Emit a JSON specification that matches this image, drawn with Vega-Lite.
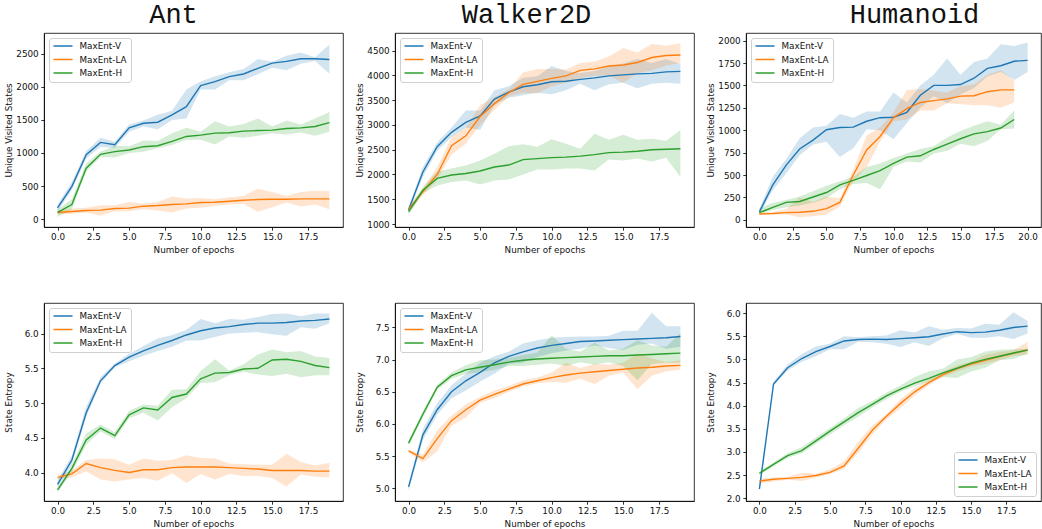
{
"$schema": "https://vega.github.io/schema/vega-lite/v6.json",
"background": "white",
"padding": {"left": 3, "top": 0, "right": 0, "bottom": 0},
"config": {
  "view": {"stroke": "black", "strokeWidth": 0.8},
  "axis": {"grid": false, "domainColor": "black", "domainWidth": 0.8, "tickColor": "black", "tickWidth": 0.8, "tickSize": 3.2, "labelFont": "DejaVu Sans", "labelFontSize": 8.8, "labelColor": "#111", "labelPadding": 2.6, "titleFont": "DejaVu Sans", "titleFontSize": 8.8, "titleFontWeight": "normal", "titleColor": "#111", "titlePadding": 3.5},
  "axisY": {"minExtent": 26, "maxExtent": 26, "titlePadding": 5},
  "legend": {"padding": 3.5, "strokeColor": "#d0d0d0", "fillColor": "rgba(255,255,255,0.8)", "cornerRadius": 2.5, "labelFont": "DejaVu Sans", "labelFontSize": 8.8, "labelColor": "#111", "symbolType": "stroke", "symbolStrokeWidth": 1.5, "symbolSize": 361, "labelOffset": 6, "clipHeight": 9, "rowPadding": 3.5, "offset": 5},
  "title": {"font": "Liberation Mono", "fontSize": 27, "fontWeight": "normal", "color": "#111", "offset": 4},
  "line": {"strokeWidth": 1.4},
  "area": {"opacity": 0.2}
},
"resolve": {"scale": {"color": "independent", "fill": "independent"}, "legend": {"color": "independent", "fill": "independent"}},
"columns": 3,
"align": "none",
"spacing": {"row": 47, "column": 10},
"datasets": {
"antU": [
{"s":"MaxEnt-V","x":0,"y":170,"lo":120,"hi":220},{"s":"MaxEnt-V","x":1,"y":495,"lo":440,"hi":560},{"s":"MaxEnt-V","x":2,"y":975,"lo":920,"hi":1030},{"s":"MaxEnt-V","x":3,"y":1160,"lo":1090,"hi":1230},{"s":"MaxEnt-V","x":4,"y":1125,"lo":1080,"hi":1170},{"s":"MaxEnt-V","x":5,"y":1380,"lo":1320,"hi":1430},{"s":"MaxEnt-V","x":6,"y":1450,"lo":1400,"hi":1490},{"s":"MaxEnt-V","x":7,"y":1465,"lo":1360,"hi":1580},{"s":"MaxEnt-V","x":8,"y":1575,"lo":1500,"hi":1640},{"s":"MaxEnt-V","x":9,"y":1700,"lo":1520,"hi":1960},{"s":"MaxEnt-V","x":10,"y":2020,"lo":1960,"hi":2080},{"s":"MaxEnt-V","x":11,"y":2080,"lo":1960,"hi":2160},{"s":"MaxEnt-V","x":12,"y":2155,"lo":2100,"hi":2220},{"s":"MaxEnt-V","x":13,"y":2195,"lo":2100,"hi":2270},{"s":"MaxEnt-V","x":14,"y":2280,"lo":2190,"hi":2420},{"s":"MaxEnt-V","x":15,"y":2360,"lo":2290,"hi":2380},{"s":"MaxEnt-V","x":16,"y":2385,"lo":2250,"hi":2470},{"s":"MaxEnt-V","x":17,"y":2425,"lo":2350,"hi":2520},{"s":"MaxEnt-V","x":18,"y":2425,"lo":2390,"hi":2450},{"s":"MaxEnt-V","x":19,"y":2415,"lo":2200,"hi":2640},
{"s":"MaxEnt-LA","x":0,"y":100,"lo":70,"hi":130},{"s":"MaxEnt-LA","x":1,"y":115,"lo":80,"hi":160},{"s":"MaxEnt-LA","x":2,"y":130,"lo":100,"hi":170},{"s":"MaxEnt-LA","x":3,"y":135,"lo":50,"hi":210},{"s":"MaxEnt-LA","x":4,"y":160,"lo":120,"hi":210},{"s":"MaxEnt-LA","x":5,"y":165,"lo":120,"hi":260},{"s":"MaxEnt-LA","x":6,"y":195,"lo":150,"hi":230},{"s":"MaxEnt-LA","x":7,"y":205,"lo":130,"hi":260},{"s":"MaxEnt-LA","x":8,"y":220,"lo":100,"hi":340},{"s":"MaxEnt-LA","x":9,"y":230,"lo":160,"hi":310},{"s":"MaxEnt-LA","x":10,"y":250,"lo":170,"hi":320},{"s":"MaxEnt-LA","x":11,"y":255,"lo":200,"hi":300},{"s":"MaxEnt-LA","x":12,"y":270,"lo":220,"hi":330},{"s":"MaxEnt-LA","x":13,"y":285,"lo":230,"hi":350},{"s":"MaxEnt-LA","x":14,"y":295,"lo":110,"hi":460},{"s":"MaxEnt-LA","x":15,"y":300,"lo":180,"hi":410},{"s":"MaxEnt-LA","x":16,"y":300,"lo":250,"hi":350},{"s":"MaxEnt-LA","x":17,"y":305,"lo":190,"hi":410},{"s":"MaxEnt-LA","x":18,"y":305,"lo":220,"hi":430},{"s":"MaxEnt-LA","x":19,"y":305,"lo":150,"hi":420},
{"s":"MaxEnt-H","x":0,"y":100,"lo":30,"hi":150},{"s":"MaxEnt-H","x":1,"y":220,"lo":150,"hi":300},{"s":"MaxEnt-H","x":2,"y":770,"lo":720,"hi":840},{"s":"MaxEnt-H","x":3,"y":980,"lo":940,"hi":1020},{"s":"MaxEnt-H","x":4,"y":1020,"lo":930,"hi":1110},{"s":"MaxEnt-H","x":5,"y":1045,"lo":1000,"hi":1100},{"s":"MaxEnt-H","x":6,"y":1095,"lo":1020,"hi":1190},{"s":"MaxEnt-H","x":7,"y":1110,"lo":1070,"hi":1180},{"s":"MaxEnt-H","x":8,"y":1175,"lo":1120,"hi":1300},{"s":"MaxEnt-H","x":9,"y":1250,"lo":1200,"hi":1380},{"s":"MaxEnt-H","x":10,"y":1270,"lo":1200,"hi":1320},{"s":"MaxEnt-H","x":11,"y":1300,"lo":1130,"hi":1480},{"s":"MaxEnt-H","x":12,"y":1305,"lo":1250,"hi":1400},{"s":"MaxEnt-H","x":13,"y":1330,"lo":1230,"hi":1440},{"s":"MaxEnt-H","x":14,"y":1340,"lo":1260,"hi":1520},{"s":"MaxEnt-H","x":15,"y":1345,"lo":1300,"hi":1400},{"s":"MaxEnt-H","x":16,"y":1370,"lo":1280,"hi":1490},{"s":"MaxEnt-H","x":17,"y":1380,"lo":1310,"hi":1430},{"s":"MaxEnt-H","x":18,"y":1400,"lo":1260,"hi":1520},{"s":"MaxEnt-H","x":19,"y":1460,"lo":1320,"hi":1620}
],
"walkU": [
{"s":"MaxEnt-V","x":0,"y":1290,"lo":1230,"hi":1340},{"s":"MaxEnt-V","x":1,"y":2050,"lo":1950,"hi":2150},{"s":"MaxEnt-V","x":2,"y":2560,"lo":2480,"hi":2650},{"s":"MaxEnt-V","x":3,"y":2850,"lo":2750,"hi":2950},{"s":"MaxEnt-V","x":4,"y":3050,"lo":2950,"hi":3290},{"s":"MaxEnt-V","x":5,"y":3180,"lo":2900,"hi":3290},{"s":"MaxEnt-V","x":6,"y":3520,"lo":3400,"hi":3700},{"s":"MaxEnt-V","x":7,"y":3660,"lo":3550,"hi":3780},{"s":"MaxEnt-V","x":8,"y":3770,"lo":3600,"hi":3950},{"s":"MaxEnt-V","x":9,"y":3810,"lo":3650,"hi":3980},{"s":"MaxEnt-V","x":10,"y":3870,"lo":3620,"hi":4190},{"s":"MaxEnt-V","x":11,"y":3880,"lo":3700,"hi":4090},{"s":"MaxEnt-V","x":12,"y":3920,"lo":3830,"hi":4050},{"s":"MaxEnt-V","x":13,"y":3950,"lo":3700,"hi":4090},{"s":"MaxEnt-V","x":14,"y":3990,"lo":3820,"hi":4180},{"s":"MaxEnt-V","x":15,"y":4010,"lo":3850,"hi":4240},{"s":"MaxEnt-V","x":16,"y":4030,"lo":3740,"hi":4330},{"s":"MaxEnt-V","x":17,"y":4040,"lo":3830,"hi":4250},{"s":"MaxEnt-V","x":18,"y":4070,"lo":3850,"hi":4330},{"s":"MaxEnt-V","x":19,"y":4080,"lo":3830,"hi":4230},
{"s":"MaxEnt-LA","x":0,"y":1300,"lo":1250,"hi":1350},{"s":"MaxEnt-LA","x":1,"y":1650,"lo":1580,"hi":1720},{"s":"MaxEnt-LA","x":2,"y":2000,"lo":1900,"hi":2150},{"s":"MaxEnt-LA","x":3,"y":2580,"lo":2400,"hi":2750},{"s":"MaxEnt-LA","x":4,"y":2780,"lo":2620,"hi":2950},{"s":"MaxEnt-LA","x":5,"y":3170,"lo":3000,"hi":3400},{"s":"MaxEnt-LA","x":6,"y":3430,"lo":3300,"hi":3560},{"s":"MaxEnt-LA","x":7,"y":3650,"lo":3580,"hi":3720},{"s":"MaxEnt-LA","x":8,"y":3820,"lo":3650,"hi":4060},{"s":"MaxEnt-LA","x":9,"y":3880,"lo":3640,"hi":4130},{"s":"MaxEnt-LA","x":10,"y":3940,"lo":3780,"hi":4130},{"s":"MaxEnt-LA","x":11,"y":3990,"lo":3850,"hi":4120},{"s":"MaxEnt-LA","x":12,"y":4100,"lo":3950,"hi":4250},{"s":"MaxEnt-LA","x":13,"y":4130,"lo":3990,"hi":4280},{"s":"MaxEnt-LA","x":14,"y":4190,"lo":4000,"hi":4380},{"s":"MaxEnt-LA","x":15,"y":4210,"lo":3850,"hi":4550},{"s":"MaxEnt-LA","x":16,"y":4260,"lo":4050,"hi":4460},{"s":"MaxEnt-LA","x":17,"y":4360,"lo":4100,"hi":4640},{"s":"MaxEnt-LA","x":18,"y":4400,"lo":4200,"hi":4600},{"s":"MaxEnt-LA","x":19,"y":4410,"lo":4250,"hi":4650},
{"s":"MaxEnt-H","x":0,"y":1250,"lo":1180,"hi":1320},{"s":"MaxEnt-H","x":1,"y":1680,"lo":1620,"hi":1740},{"s":"MaxEnt-H","x":2,"y":1920,"lo":1780,"hi":2060},{"s":"MaxEnt-H","x":3,"y":1990,"lo":1850,"hi":2120},{"s":"MaxEnt-H","x":4,"y":2020,"lo":1880,"hi":2180},{"s":"MaxEnt-H","x":5,"y":2070,"lo":1800,"hi":2280},{"s":"MaxEnt-H","x":6,"y":2150,"lo":1880,"hi":2420},{"s":"MaxEnt-H","x":7,"y":2190,"lo":1900,"hi":2570},{"s":"MaxEnt-H","x":8,"y":2300,"lo":2000,"hi":2610},{"s":"MaxEnt-H","x":9,"y":2320,"lo":2100,"hi":2560},{"s":"MaxEnt-H","x":10,"y":2340,"lo":2100,"hi":2710},{"s":"MaxEnt-H","x":11,"y":2350,"lo":2120,"hi":2620},{"s":"MaxEnt-H","x":12,"y":2370,"lo":2120,"hi":2520},{"s":"MaxEnt-H","x":13,"y":2400,"lo":2080,"hi":2820},{"s":"MaxEnt-H","x":14,"y":2440,"lo":2300,"hi":2700},{"s":"MaxEnt-H","x":15,"y":2450,"lo":2280,"hi":2800},{"s":"MaxEnt-H","x":16,"y":2470,"lo":2320,"hi":2700},{"s":"MaxEnt-H","x":17,"y":2500,"lo":2260,"hi":2720},{"s":"MaxEnt-H","x":18,"y":2510,"lo":2340,"hi":2680},{"s":"MaxEnt-H","x":19,"y":2520,"lo":1950,"hi":2900}
],
"humU": [
{"s":"MaxEnt-V","x":0,"y":90,"lo":60,"hi":120},{"s":"MaxEnt-V","x":1,"y":390,"lo":330,"hi":480},{"s":"MaxEnt-V","x":2,"y":610,"lo":520,"hi":680},{"s":"MaxEnt-V","x":3,"y":790,"lo":720,"hi":910},{"s":"MaxEnt-V","x":4,"y":890,"lo":840,"hi":1030},{"s":"MaxEnt-V","x":5,"y":1005,"lo":870,"hi":1050},{"s":"MaxEnt-V","x":6,"y":1030,"lo":700,"hi":1180},{"s":"MaxEnt-V","x":7,"y":1035,"lo":800,"hi":1140},{"s":"MaxEnt-V","x":8,"y":1100,"lo":1010,"hi":1210},{"s":"MaxEnt-V","x":9,"y":1140,"lo":1000,"hi":1210},{"s":"MaxEnt-V","x":10,"y":1145,"lo":900,"hi":1420},{"s":"MaxEnt-V","x":11,"y":1200,"lo":1080,"hi":1310},{"s":"MaxEnt-V","x":12,"y":1390,"lo":1250,"hi":1500},{"s":"MaxEnt-V","x":13,"y":1500,"lo":1380,"hi":1620},{"s":"MaxEnt-V","x":14,"y":1500,"lo":1300,"hi":1800},{"s":"MaxEnt-V","x":15,"y":1510,"lo":1400,"hi":1620},{"s":"MaxEnt-V","x":16,"y":1580,"lo":1470,"hi":1760},{"s":"MaxEnt-V","x":17,"y":1690,"lo":1600,"hi":1800},{"s":"MaxEnt-V","x":18,"y":1720,"lo":1650,"hi":1960},{"s":"MaxEnt-V","x":19,"y":1770,"lo":1560,"hi":1940},{"s":"MaxEnt-V","x":20,"y":1780,"lo":1650,"hi":1980},
{"s":"MaxEnt-LA","x":0,"y":65,"lo":55,"hi":80},{"s":"MaxEnt-LA","x":1,"y":70,"lo":60,"hi":85},{"s":"MaxEnt-LA","x":2,"y":80,"lo":60,"hi":120},{"s":"MaxEnt-LA","x":3,"y":85,"lo":30,"hi":250},{"s":"MaxEnt-LA","x":4,"y":95,"lo":40,"hi":200},{"s":"MaxEnt-LA","x":5,"y":125,"lo":60,"hi":260},{"s":"MaxEnt-LA","x":6,"y":195,"lo":150,"hi":240},{"s":"MaxEnt-LA","x":7,"y":500,"lo":430,"hi":560},{"s":"MaxEnt-LA","x":8,"y":780,"lo":590,"hi":940},{"s":"MaxEnt-LA","x":9,"y":930,"lo":870,"hi":1030},{"s":"MaxEnt-LA","x":10,"y":1140,"lo":1100,"hi":1200},{"s":"MaxEnt-LA","x":11,"y":1240,"lo":1120,"hi":1450},{"s":"MaxEnt-LA","x":12,"y":1310,"lo":1220,"hi":1460},{"s":"MaxEnt-LA","x":13,"y":1330,"lo":1220,"hi":1440},{"s":"MaxEnt-LA","x":14,"y":1350,"lo":1300,"hi":1420},{"s":"MaxEnt-LA","x":15,"y":1380,"lo":1290,"hi":1490},{"s":"MaxEnt-LA","x":16,"y":1385,"lo":1280,"hi":1510},{"s":"MaxEnt-LA","x":17,"y":1430,"lo":1280,"hi":1620},{"s":"MaxEnt-LA","x":18,"y":1450,"lo":1250,"hi":1670},{"s":"MaxEnt-LA","x":19,"y":1450,"lo":1310,"hi":1550},
{"s":"MaxEnt-H","x":0,"y":80,"lo":60,"hi":130},{"s":"MaxEnt-H","x":1,"y":140,"lo":110,"hi":190},{"s":"MaxEnt-H","x":2,"y":195,"lo":140,"hi":220},{"s":"MaxEnt-H","x":3,"y":205,"lo":160,"hi":260},{"s":"MaxEnt-H","x":4,"y":255,"lo":190,"hi":320},{"s":"MaxEnt-H","x":5,"y":305,"lo":240,"hi":380},{"s":"MaxEnt-H","x":6,"y":390,"lo":340,"hi":430},{"s":"MaxEnt-H","x":7,"y":440,"lo":400,"hi":480},{"s":"MaxEnt-H","x":8,"y":495,"lo":410,"hi":590},{"s":"MaxEnt-H","x":9,"y":550,"lo":340,"hi":630},{"s":"MaxEnt-H","x":10,"y":630,"lo":590,"hi":690},{"s":"MaxEnt-H","x":11,"y":700,"lo":650,"hi":740},{"s":"MaxEnt-H","x":12,"y":715,"lo":640,"hi":790},{"s":"MaxEnt-H","x":13,"y":785,"lo":740,"hi":820},{"s":"MaxEnt-H","x":14,"y":845,"lo":770,"hi":920},{"s":"MaxEnt-H","x":15,"y":905,"lo":850,"hi":990},{"s":"MaxEnt-H","x":16,"y":960,"lo":820,"hi":1050},{"s":"MaxEnt-H","x":17,"y":985,"lo":880,"hi":1100},{"s":"MaxEnt-H","x":18,"y":1025,"lo":1010,"hi":1060},{"s":"MaxEnt-H","x":19,"y":1120,"lo":1020,"hi":1220}
],
"antE": [
{"s":"MaxEnt-V","x":0,"y":3.83,"lo":3.78,"hi":3.89},{"s":"MaxEnt-V","x":1,"y":4.18,"lo":4.12,"hi":4.24},{"s":"MaxEnt-V","x":2,"y":4.86,"lo":4.8,"hi":4.95},{"s":"MaxEnt-V","x":3,"y":5.32,"lo":5.28,"hi":5.37},{"s":"MaxEnt-V","x":4,"y":5.54,"lo":5.51,"hi":5.57},{"s":"MaxEnt-V","x":5,"y":5.66,"lo":5.6,"hi":5.71},{"s":"MaxEnt-V","x":6,"y":5.75,"lo":5.68,"hi":5.82},{"s":"MaxEnt-V","x":7,"y":5.83,"lo":5.75,"hi":5.93},{"s":"MaxEnt-V","x":8,"y":5.9,"lo":5.81,"hi":5.98},{"s":"MaxEnt-V","x":9,"y":5.98,"lo":5.9,"hi":6.05},{"s":"MaxEnt-V","x":10,"y":6.04,"lo":5.9,"hi":6.21},{"s":"MaxEnt-V","x":11,"y":6.08,"lo":5.95,"hi":6.15},{"s":"MaxEnt-V","x":12,"y":6.1,"lo":6.0,"hi":6.21},{"s":"MaxEnt-V","x":13,"y":6.13,"lo":6.01,"hi":6.2},{"s":"MaxEnt-V","x":14,"y":6.15,"lo":6.02,"hi":6.24},{"s":"MaxEnt-V","x":15,"y":6.15,"lo":5.99,"hi":6.28},{"s":"MaxEnt-V","x":16,"y":6.16,"lo":5.97,"hi":6.29},{"s":"MaxEnt-V","x":17,"y":6.18,"lo":6.09,"hi":6.25},{"s":"MaxEnt-V","x":18,"y":6.19,"lo":6.07,"hi":6.29},{"s":"MaxEnt-V","x":19,"y":6.21,"lo":6.15,"hi":6.29},
{"s":"MaxEnt-LA","x":0,"y":3.93,"lo":3.9,"hi":3.96},{"s":"MaxEnt-LA","x":1,"y":3.98,"lo":3.93,"hi":4.03},{"s":"MaxEnt-LA","x":2,"y":4.13,"lo":4.02,"hi":4.18},{"s":"MaxEnt-LA","x":3,"y":4.07,"lo":3.9,"hi":4.2},{"s":"MaxEnt-LA","x":4,"y":4.03,"lo":3.87,"hi":4.19},{"s":"MaxEnt-LA","x":5,"y":4.0,"lo":3.9,"hi":4.11},{"s":"MaxEnt-LA","x":6,"y":4.04,"lo":3.92,"hi":4.2},{"s":"MaxEnt-LA","x":7,"y":4.04,"lo":3.88,"hi":4.17},{"s":"MaxEnt-LA","x":8,"y":4.07,"lo":3.99,"hi":4.18},{"s":"MaxEnt-LA","x":9,"y":4.08,"lo":3.85,"hi":4.25},{"s":"MaxEnt-LA","x":10,"y":4.08,"lo":3.98,"hi":4.21},{"s":"MaxEnt-LA","x":11,"y":4.08,"lo":3.9,"hi":4.2},{"s":"MaxEnt-LA","x":12,"y":4.07,"lo":3.98,"hi":4.13},{"s":"MaxEnt-LA","x":13,"y":4.06,"lo":3.95,"hi":4.12},{"s":"MaxEnt-LA","x":14,"y":4.05,"lo":3.95,"hi":4.11},{"s":"MaxEnt-LA","x":15,"y":4.03,"lo":3.92,"hi":4.11},{"s":"MaxEnt-LA","x":16,"y":4.03,"lo":3.8,"hi":4.27},{"s":"MaxEnt-LA","x":17,"y":4.03,"lo":3.97,"hi":4.15},{"s":"MaxEnt-LA","x":18,"y":4.02,"lo":3.94,"hi":4.1},{"s":"MaxEnt-LA","x":19,"y":4.02,"lo":3.93,"hi":4.14},
{"s":"MaxEnt-H","x":0,"y":3.75,"lo":3.72,"hi":3.78},{"s":"MaxEnt-H","x":1,"y":4.06,"lo":4.0,"hi":4.11},{"s":"MaxEnt-H","x":2,"y":4.47,"lo":4.4,"hi":4.56},{"s":"MaxEnt-H","x":3,"y":4.64,"lo":4.59,"hi":4.69},{"s":"MaxEnt-H","x":4,"y":4.53,"lo":4.48,"hi":4.58},{"s":"MaxEnt-H","x":5,"y":4.83,"lo":4.78,"hi":4.89},{"s":"MaxEnt-H","x":6,"y":4.93,"lo":4.86,"hi":4.98},{"s":"MaxEnt-H","x":7,"y":4.9,"lo":4.75,"hi":4.96},{"s":"MaxEnt-H","x":8,"y":5.08,"lo":4.94,"hi":5.19},{"s":"MaxEnt-H","x":9,"y":5.13,"lo":5.07,"hi":5.2},{"s":"MaxEnt-H","x":10,"y":5.35,"lo":5.29,"hi":5.46},{"s":"MaxEnt-H","x":11,"y":5.43,"lo":5.3,"hi":5.63},{"s":"MaxEnt-H","x":12,"y":5.44,"lo":5.4,"hi":5.47},{"s":"MaxEnt-H","x":13,"y":5.49,"lo":5.45,"hi":5.56},{"s":"MaxEnt-H","x":14,"y":5.5,"lo":5.41,"hi":5.7},{"s":"MaxEnt-H","x":15,"y":5.62,"lo":5.39,"hi":5.77},{"s":"MaxEnt-H","x":16,"y":5.63,"lo":5.42,"hi":5.73},{"s":"MaxEnt-H","x":17,"y":5.6,"lo":5.37,"hi":5.75},{"s":"MaxEnt-H","x":18,"y":5.54,"lo":5.4,"hi":5.67},{"s":"MaxEnt-H","x":19,"y":5.51,"lo":5.4,"hi":5.65}
],
"walkE": [
{"s":"MaxEnt-V","x":0,"y":5.02,"lo":4.96,"hi":5.07},{"s":"MaxEnt-V","x":1,"y":5.83,"lo":5.75,"hi":5.92},{"s":"MaxEnt-V","x":2,"y":6.22,"lo":6.14,"hi":6.32},{"s":"MaxEnt-V","x":3,"y":6.5,"lo":6.4,"hi":6.6},{"s":"MaxEnt-V","x":4,"y":6.67,"lo":6.52,"hi":6.78},{"s":"MaxEnt-V","x":5,"y":6.8,"lo":6.66,"hi":6.95},{"s":"MaxEnt-V","x":6,"y":6.95,"lo":6.78,"hi":7.05},{"s":"MaxEnt-V","x":7,"y":7.05,"lo":6.93,"hi":7.12},{"s":"MaxEnt-V","x":8,"y":7.12,"lo":6.95,"hi":7.25},{"s":"MaxEnt-V","x":9,"y":7.18,"lo":7.04,"hi":7.3},{"s":"MaxEnt-V","x":10,"y":7.22,"lo":7.1,"hi":7.34},{"s":"MaxEnt-V","x":11,"y":7.25,"lo":7.14,"hi":7.35},{"s":"MaxEnt-V","x":12,"y":7.28,"lo":7.17,"hi":7.36},{"s":"MaxEnt-V","x":13,"y":7.29,"lo":7.22,"hi":7.36},{"s":"MaxEnt-V","x":14,"y":7.3,"lo":7.18,"hi":7.37},{"s":"MaxEnt-V","x":15,"y":7.31,"lo":7.15,"hi":7.45},{"s":"MaxEnt-V","x":16,"y":7.32,"lo":7.23,"hi":7.45},{"s":"MaxEnt-V","x":17,"y":7.33,"lo":7.25,"hi":7.73},{"s":"MaxEnt-V","x":18,"y":7.34,"lo":7.17,"hi":7.52},{"s":"MaxEnt-V","x":19,"y":7.36,"lo":7.2,"hi":7.52},
{"s":"MaxEnt-LA","x":0,"y":5.58,"lo":5.55,"hi":5.6},{"s":"MaxEnt-LA","x":1,"y":5.46,"lo":5.4,"hi":5.52},{"s":"MaxEnt-LA","x":2,"y":5.77,"lo":5.57,"hi":5.9},{"s":"MaxEnt-LA","x":3,"y":6.05,"lo":5.97,"hi":6.13},{"s":"MaxEnt-LA","x":4,"y":6.22,"lo":6.1,"hi":6.3},{"s":"MaxEnt-LA","x":5,"y":6.37,"lo":6.33,"hi":6.42},{"s":"MaxEnt-LA","x":6,"y":6.46,"lo":6.4,"hi":6.52},{"s":"MaxEnt-LA","x":7,"y":6.54,"lo":6.5,"hi":6.59},{"s":"MaxEnt-LA","x":8,"y":6.62,"lo":6.58,"hi":6.68},{"s":"MaxEnt-LA","x":9,"y":6.67,"lo":6.63,"hi":6.72},{"s":"MaxEnt-LA","x":10,"y":6.72,"lo":6.65,"hi":6.8},{"s":"MaxEnt-LA","x":11,"y":6.76,"lo":6.64,"hi":6.95},{"s":"MaxEnt-LA","x":12,"y":6.79,"lo":6.7,"hi":6.87},{"s":"MaxEnt-LA","x":13,"y":6.81,"lo":6.62,"hi":6.93},{"s":"MaxEnt-LA","x":14,"y":6.83,"lo":6.75,"hi":6.92},{"s":"MaxEnt-LA","x":15,"y":6.85,"lo":6.8,"hi":6.95},{"s":"MaxEnt-LA","x":16,"y":6.87,"lo":6.54,"hi":7.1},{"s":"MaxEnt-LA","x":17,"y":6.88,"lo":6.75,"hi":7.02},{"s":"MaxEnt-LA","x":18,"y":6.9,"lo":6.82,"hi":6.96},{"s":"MaxEnt-LA","x":19,"y":6.91,"lo":6.84,"hi":6.99},
{"s":"MaxEnt-H","x":0,"y":5.7,"lo":5.66,"hi":5.74},{"s":"MaxEnt-H","x":1,"y":6.15,"lo":6.1,"hi":6.2},{"s":"MaxEnt-H","x":2,"y":6.57,"lo":6.53,"hi":6.61},{"s":"MaxEnt-H","x":3,"y":6.75,"lo":6.7,"hi":6.8},{"s":"MaxEnt-H","x":4,"y":6.84,"lo":6.78,"hi":6.91},{"s":"MaxEnt-H","x":5,"y":6.88,"lo":6.8,"hi":6.99},{"s":"MaxEnt-H","x":6,"y":6.92,"lo":6.84,"hi":7.0},{"s":"MaxEnt-H","x":7,"y":6.96,"lo":6.9,"hi":7.03},{"s":"MaxEnt-H","x":8,"y":6.99,"lo":6.9,"hi":7.07},{"s":"MaxEnt-H","x":9,"y":7.01,"lo":6.92,"hi":7.11},{"s":"MaxEnt-H","x":10,"y":7.02,"lo":6.94,"hi":7.38},{"s":"MaxEnt-H","x":11,"y":7.03,"lo":6.9,"hi":7.17},{"s":"MaxEnt-H","x":12,"y":7.04,"lo":6.96,"hi":7.12},{"s":"MaxEnt-H","x":13,"y":7.05,"lo":6.92,"hi":7.26},{"s":"MaxEnt-H","x":14,"y":7.06,"lo":6.96,"hi":7.14},{"s":"MaxEnt-H","x":15,"y":7.06,"lo":6.9,"hi":7.17},{"s":"MaxEnt-H","x":16,"y":7.07,"lo":6.68,"hi":7.3},{"s":"MaxEnt-H","x":17,"y":7.08,"lo":6.93,"hi":7.22},{"s":"MaxEnt-H","x":18,"y":7.09,"lo":6.95,"hi":7.2},{"s":"MaxEnt-H","x":19,"y":7.1,"lo":6.95,"hi":7.41}
],
"humE": [
{"s":"MaxEnt-V","x":0,"y":2.2,"lo":2.15,"hi":2.25},{"s":"MaxEnt-V","x":1,"y":4.47,"lo":4.43,"hi":4.52},{"s":"MaxEnt-V","x":2,"y":4.82,"lo":4.76,"hi":4.89},{"s":"MaxEnt-V","x":3,"y":5.02,"lo":4.95,"hi":5.12},{"s":"MaxEnt-V","x":4,"y":5.17,"lo":5.07,"hi":5.28},{"s":"MaxEnt-V","x":5,"y":5.28,"lo":5.22,"hi":5.34},{"s":"MaxEnt-V","x":6,"y":5.4,"lo":5.22,"hi":5.5},{"s":"MaxEnt-V","x":7,"y":5.43,"lo":5.38,"hi":5.48},{"s":"MaxEnt-V","x":8,"y":5.44,"lo":5.37,"hi":5.5},{"s":"MaxEnt-V","x":9,"y":5.43,"lo":5.34,"hi":5.52},{"s":"MaxEnt-V","x":10,"y":5.45,"lo":5.27,"hi":5.63},{"s":"MaxEnt-V","x":11,"y":5.47,"lo":5.37,"hi":5.58},{"s":"MaxEnt-V","x":12,"y":5.49,"lo":5.29,"hi":5.72},{"s":"MaxEnt-V","x":13,"y":5.55,"lo":5.46,"hi":5.64},{"s":"MaxEnt-V","x":14,"y":5.6,"lo":5.55,"hi":5.68},{"s":"MaxEnt-V","x":15,"y":5.58,"lo":5.47,"hi":5.67},{"s":"MaxEnt-V","x":16,"y":5.59,"lo":5.47,"hi":5.77},{"s":"MaxEnt-V","x":17,"y":5.63,"lo":5.5,"hi":5.75},{"s":"MaxEnt-V","x":18,"y":5.69,"lo":5.44,"hi":6.02},{"s":"MaxEnt-V","x":19,"y":5.72,"lo":5.56,"hi":5.83},
{"s":"MaxEnt-LA","x":0,"y":2.37,"lo":2.32,"hi":2.42},{"s":"MaxEnt-LA","x":1,"y":2.41,"lo":2.36,"hi":2.45},{"s":"MaxEnt-LA","x":2,"y":2.43,"lo":2.4,"hi":2.46},{"s":"MaxEnt-LA","x":3,"y":2.45,"lo":2.37,"hi":2.55},{"s":"MaxEnt-LA","x":4,"y":2.49,"lo":2.45,"hi":2.53},{"s":"MaxEnt-LA","x":5,"y":2.56,"lo":2.52,"hi":2.62},{"s":"MaxEnt-LA","x":6,"y":2.7,"lo":2.63,"hi":2.8},{"s":"MaxEnt-LA","x":7,"y":3.08,"lo":2.98,"hi":3.22},{"s":"MaxEnt-LA","x":8,"y":3.47,"lo":3.38,"hi":3.57},{"s":"MaxEnt-LA","x":9,"y":3.77,"lo":3.7,"hi":3.82},{"s":"MaxEnt-LA","x":10,"y":4.05,"lo":3.95,"hi":4.14},{"s":"MaxEnt-LA","x":11,"y":4.3,"lo":4.22,"hi":4.38},{"s":"MaxEnt-LA","x":12,"y":4.5,"lo":4.44,"hi":4.56},{"s":"MaxEnt-LA","x":13,"y":4.67,"lo":4.62,"hi":4.73},{"s":"MaxEnt-LA","x":14,"y":4.8,"lo":4.74,"hi":4.87},{"s":"MaxEnt-LA","x":15,"y":4.9,"lo":4.85,"hi":4.95},{"s":"MaxEnt-LA","x":16,"y":4.98,"lo":4.9,"hi":5.1},{"s":"MaxEnt-LA","x":17,"y":5.06,"lo":4.98,"hi":5.16},{"s":"MaxEnt-LA","x":18,"y":5.13,"lo":5.08,"hi":5.2},{"s":"MaxEnt-LA","x":19,"y":5.21,"lo":5.1,"hi":5.38},
{"s":"MaxEnt-H","x":0,"y":2.54,"lo":2.5,"hi":2.58},{"s":"MaxEnt-H","x":1,"y":2.73,"lo":2.69,"hi":2.77},{"s":"MaxEnt-H","x":2,"y":2.92,"lo":2.87,"hi":2.98},{"s":"MaxEnt-H","x":3,"y":3.03,"lo":2.97,"hi":3.1},{"s":"MaxEnt-H","x":4,"y":3.24,"lo":3.18,"hi":3.31},{"s":"MaxEnt-H","x":5,"y":3.45,"lo":3.38,"hi":3.52},{"s":"MaxEnt-H","x":6,"y":3.65,"lo":3.58,"hi":3.73},{"s":"MaxEnt-H","x":7,"y":3.85,"lo":3.76,"hi":3.95},{"s":"MaxEnt-H","x":8,"y":4.03,"lo":3.96,"hi":4.1},{"s":"MaxEnt-H","x":9,"y":4.21,"lo":4.14,"hi":4.28},{"s":"MaxEnt-H","x":10,"y":4.36,"lo":4.3,"hi":4.44},{"s":"MaxEnt-H","x":11,"y":4.49,"lo":4.42,"hi":4.62},{"s":"MaxEnt-H","x":12,"y":4.59,"lo":4.52,"hi":4.74},{"s":"MaxEnt-H","x":13,"y":4.71,"lo":4.62,"hi":4.8},{"s":"MaxEnt-H","x":14,"y":4.81,"lo":4.6,"hi":5.0},{"s":"MaxEnt-H","x":15,"y":4.92,"lo":4.74,"hi":5.05},{"s":"MaxEnt-H","x":16,"y":5.0,"lo":4.82,"hi":5.17},{"s":"MaxEnt-H","x":17,"y":5.07,"lo":4.98,"hi":5.21},{"s":"MaxEnt-H","x":18,"y":5.14,"lo":5.01,"hi":5.22},{"s":"MaxEnt-H","x":19,"y":5.2,"lo":5.13,"hi":5.23}
]
},
"concat": [
{
 "width": 299, "height": 194,
 "title": {"text": "Ant", "dx": -20},
 "data": {"name": "antU"},
 "encoding": {"x": {"field": "x", "type": "quantitative", "scale": {"domain": [-0.95, 19.95], "nice": false, "zero": false}, "axis": {"title": "Number of epochs", "values": [0, 2.5, 5, 7.5, 10, 12.5, 15, 17.5], "format": ".1f"}}},
 "layer": [
  {"mark": {"type": "area"}, "encoding": {"y": {"field": "lo", "type": "quantitative", "stack": null, "scale": {"domain": [-120, 2815], "nice": false, "zero": false}, "axis": {"title": "Unique Visited States", "values": [0, 500, 1000, 1500, 2000, 2500], "format": "d"}}, "y2": {"field": "hi"}, "fill": {"field": "s", "type": "nominal", "scale": {"domain": ["MaxEnt-H", "MaxEnt-LA", "MaxEnt-V"], "range": ["#2ca02c", "#ff7f0e", "#1f77b4"]}, "legend": null}}},
  {"mark": {"type": "line"}, "encoding": {"y": {"field": "y", "type": "quantitative", "axis": {"title": "Unique Visited States", "values": [0, 500, 1000, 1500, 2000, 2500], "format": "d"}}, "color": {"field": "s", "type": "nominal", "scale": {"domain": ["MaxEnt-V", "MaxEnt-LA", "MaxEnt-H"], "range": ["#1f77b4", "#ff7f0e", "#2ca02c"]}, "legend": {"orient": "top-left", "title": null}}}}
 ]
},
{
 "width": 299, "height": 194,
 "title": {"text": "Walker2D", "dx": -18},
 "data": {"name": "walkU"},
 "encoding": {"x": {"field": "x", "type": "quantitative", "scale": {"domain": [-0.95, 19.95], "nice": false, "zero": false}, "axis": {"title": "Number of epochs", "values": [0, 2.5, 5, 7.5, 10, 12.5, 15, 17.5], "format": ".1f"}}},
 "layer": [
  {"mark": {"type": "area"}, "encoding": {"y": {"field": "lo", "type": "quantitative", "stack": null, "scale": {"domain": [940, 4855], "nice": false, "zero": false}, "axis": {"title": "Unique Visited States", "values": [1000, 1500, 2000, 2500, 3000, 3500, 4000, 4500], "format": "d"}}, "y2": {"field": "hi"}, "fill": {"field": "s", "type": "nominal", "scale": {"domain": ["MaxEnt-H", "MaxEnt-LA", "MaxEnt-V"], "range": ["#2ca02c", "#ff7f0e", "#1f77b4"]}, "legend": null}}},
  {"mark": {"type": "line"}, "encoding": {"y": {"field": "y", "type": "quantitative", "axis": {"title": "Unique Visited States", "values": [1000, 1500, 2000, 2500, 3000, 3500, 4000, 4500], "format": "d"}}, "color": {"field": "s", "type": "nominal", "scale": {"domain": ["MaxEnt-V", "MaxEnt-LA", "MaxEnt-H"], "range": ["#1f77b4", "#ff7f0e", "#2ca02c"]}, "legend": {"orient": "top-left", "title": null}}}}
 ]
},
{
 "width": 295, "height": 194,
 "title": {"text": "Humanoid", "dx": 21},
 "data": {"name": "humU"},
 "encoding": {"x": {"field": "x", "type": "quantitative", "scale": {"domain": [-1, 21], "nice": false, "zero": false}, "axis": {"title": "Number of epochs", "values": [0, 2.5, 5, 7.5, 10, 12.5, 15, 17.5, 20], "format": ".1f"}}},
 "layer": [
  {"mark": {"type": "area"}, "encoding": {"y": {"field": "lo", "type": "quantitative", "stack": null, "scale": {"domain": [-80, 2085], "nice": false, "zero": false}, "axis": {"title": "Unique Visited States", "values": [0, 250, 500, 750, 1000, 1250, 1500, 1750, 2000], "format": "d"}}, "y2": {"field": "hi"}, "fill": {"field": "s", "type": "nominal", "scale": {"domain": ["MaxEnt-H", "MaxEnt-LA", "MaxEnt-V"], "range": ["#2ca02c", "#ff7f0e", "#1f77b4"]}, "legend": null}}},
  {"mark": {"type": "line"}, "encoding": {"y": {"field": "y", "type": "quantitative", "axis": {"title": "Unique Visited States", "values": [0, 250, 500, 750, 1000, 1250, 1500, 1750, 2000], "format": "d"}}, "color": {"field": "s", "type": "nominal", "scale": {"domain": ["MaxEnt-V", "MaxEnt-LA", "MaxEnt-H"], "range": ["#1f77b4", "#ff7f0e", "#2ca02c"]}, "legend": {"orient": "top-left", "title": null}}}}
 ]
},
{
 "width": 299, "height": 198,
 "data": {"name": "antE"},
 "encoding": {"x": {"field": "x", "type": "quantitative", "scale": {"domain": [-0.95, 19.95], "nice": false, "zero": false}, "axis": {"title": "Number of epochs", "values": [0, 2.5, 5, 7.5, 10, 12.5, 15, 17.5], "format": ".1f"}}},
 "layer": [
  {"mark": {"type": "area"}, "encoding": {"y": {"field": "lo", "type": "quantitative", "stack": null, "scale": {"domain": [3.59, 6.44], "nice": false, "zero": false}, "axis": {"title": "State Entropy", "values": [4, 4.5, 5, 5.5, 6], "format": ".1f"}}, "y2": {"field": "hi"}, "fill": {"field": "s", "type": "nominal", "scale": {"domain": ["MaxEnt-H", "MaxEnt-LA", "MaxEnt-V"], "range": ["#2ca02c", "#ff7f0e", "#1f77b4"]}, "legend": null}}},
  {"mark": {"type": "line"}, "encoding": {"y": {"field": "y", "type": "quantitative", "axis": {"title": "State Entropy", "values": [4, 4.5, 5, 5.5, 6], "format": ".1f"}}, "color": {"field": "s", "type": "nominal", "scale": {"domain": ["MaxEnt-V", "MaxEnt-LA", "MaxEnt-H"], "range": ["#1f77b4", "#ff7f0e", "#2ca02c"]}, "legend": {"orient": "top-left", "title": null}}}}
 ]
},
{
 "width": 299, "height": 198,
 "data": {"name": "walkE"},
 "encoding": {"x": {"field": "x", "type": "quantitative", "scale": {"domain": [-0.95, 19.95], "nice": false, "zero": false}, "axis": {"title": "Number of epochs", "values": [0, 2.5, 5, 7.5, 10, 12.5, 15, 17.5], "format": ".1f"}}},
 "layer": [
  {"mark": {"type": "area"}, "encoding": {"y": {"field": "lo", "type": "quantitative", "stack": null, "scale": {"domain": [4.8, 7.88], "nice": false, "zero": false}, "axis": {"title": "State Entropy", "values": [5, 5.5, 6, 6.5, 7, 7.5], "format": ".1f"}}, "y2": {"field": "hi"}, "fill": {"field": "s", "type": "nominal", "scale": {"domain": ["MaxEnt-H", "MaxEnt-LA", "MaxEnt-V"], "range": ["#2ca02c", "#ff7f0e", "#1f77b4"]}, "legend": null}}},
  {"mark": {"type": "line"}, "encoding": {"y": {"field": "y", "type": "quantitative", "axis": {"title": "State Entropy", "values": [5, 5.5, 6, 6.5, 7, 7.5], "format": ".1f"}}, "color": {"field": "s", "type": "nominal", "scale": {"domain": ["MaxEnt-V", "MaxEnt-LA", "MaxEnt-H"], "range": ["#1f77b4", "#ff7f0e", "#2ca02c"]}, "legend": {"orient": "top-left", "title": null}}}}
 ]
},
{
 "width": 295, "height": 198,
 "data": {"name": "humE"},
 "encoding": {"x": {"field": "x", "type": "quantitative", "scale": {"domain": [-0.95, 19.95], "nice": false, "zero": false}, "axis": {"title": "Number of epochs", "values": [0, 2.5, 5, 7.5, 10, 12.5, 15, 17.5], "format": ".1f"}}},
 "layer": [
  {"mark": {"type": "area"}, "encoding": {"y": {"field": "lo", "type": "quantitative", "stack": null, "scale": {"domain": [1.94, 6.22], "nice": false, "zero": false}, "axis": {"title": "State Entropy", "values": [2, 2.5, 3, 3.5, 4, 4.5, 5, 5.5, 6], "format": ".1f"}}, "y2": {"field": "hi"}, "fill": {"field": "s", "type": "nominal", "scale": {"domain": ["MaxEnt-H", "MaxEnt-LA", "MaxEnt-V"], "range": ["#2ca02c", "#ff7f0e", "#1f77b4"]}, "legend": null}}},
  {"mark": {"type": "line"}, "encoding": {"y": {"field": "y", "type": "quantitative", "axis": {"title": "State Entropy", "values": [2, 2.5, 3, 3.5, 4, 4.5, 5, 5.5, 6], "format": ".1f"}}, "color": {"field": "s", "type": "nominal", "scale": {"domain": ["MaxEnt-V", "MaxEnt-LA", "MaxEnt-H"], "range": ["#1f77b4", "#ff7f0e", "#2ca02c"]}, "legend": {"orient": "bottom-right", "title": null}}}}
 ]
}
]
}
